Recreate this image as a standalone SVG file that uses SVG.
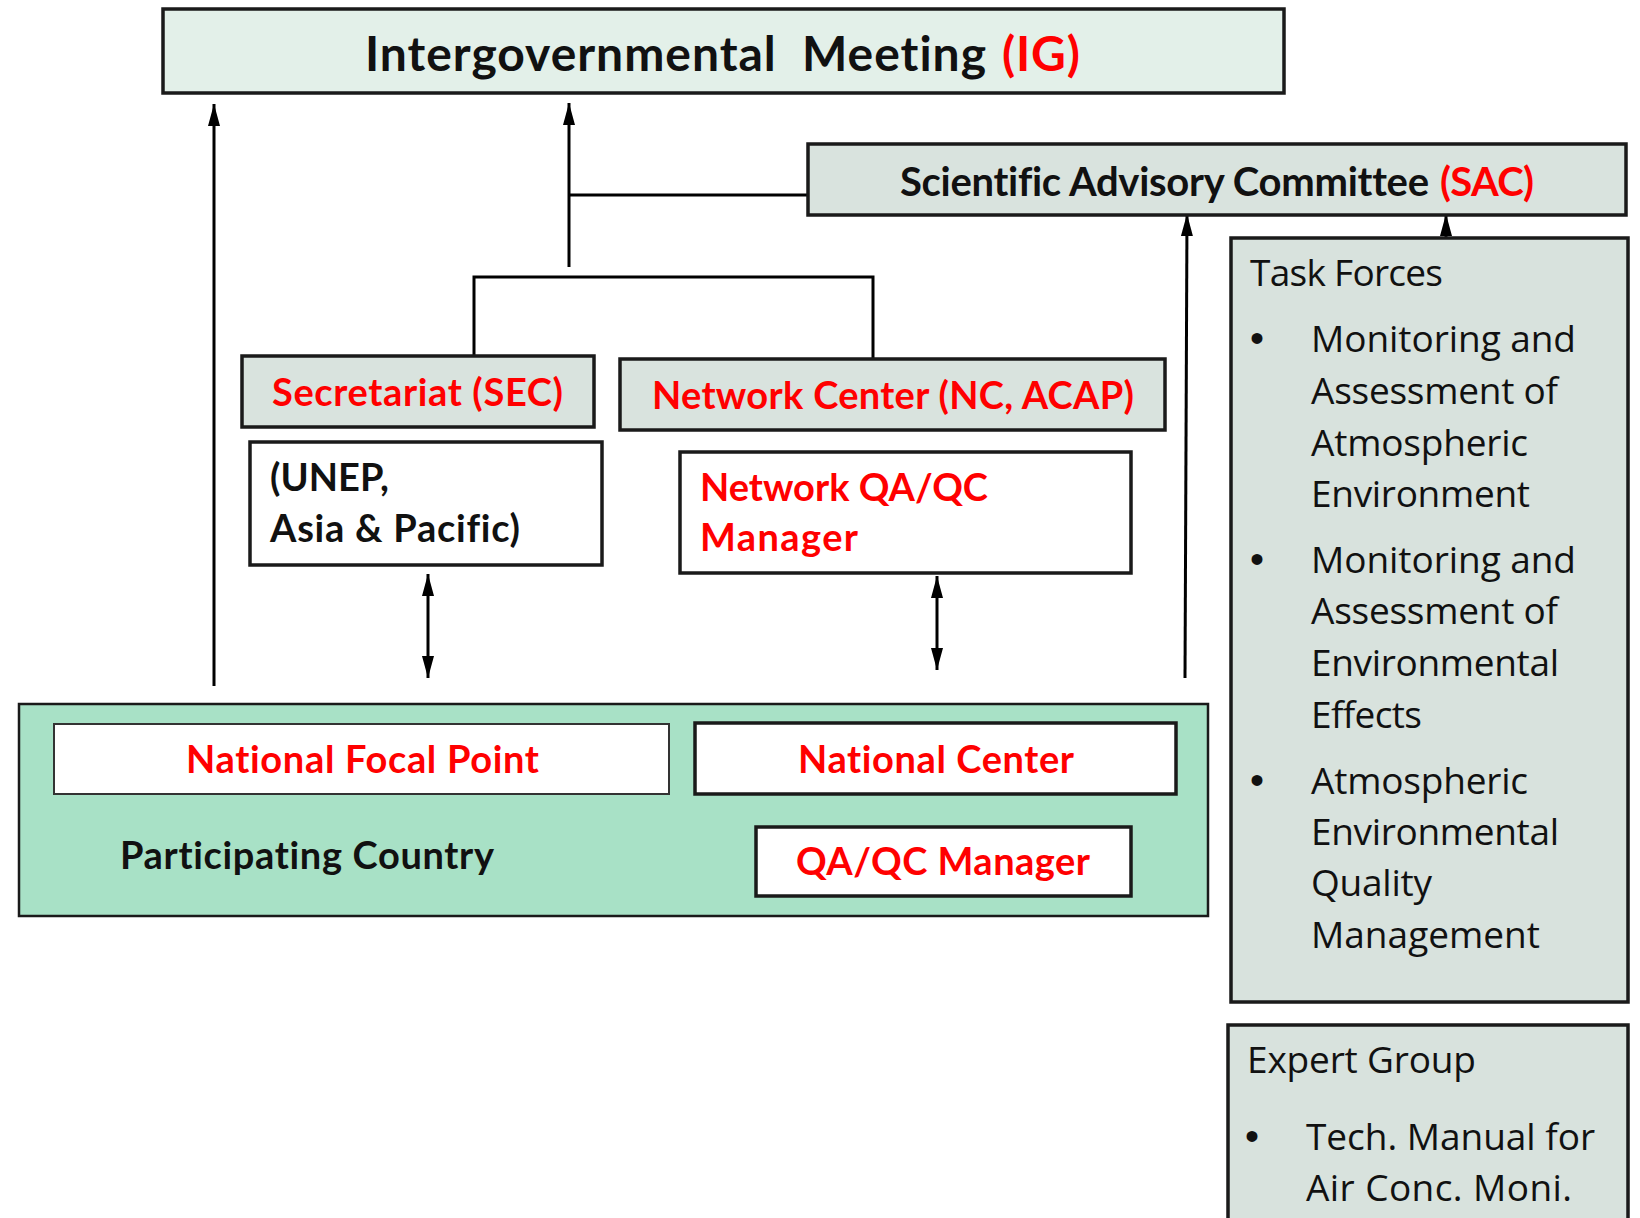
<svg xmlns="http://www.w3.org/2000/svg" width="1640" height="1218" viewBox="0 0 1640 1218">
<style>
text{font-variant-ligatures:none;font-feature-settings:"liga" 0,"clig" 0,"dlig" 0}
.b{font-family:Lato,"Open Sans","Liberation Sans",sans-serif;font-weight:bold}
.r{fill:#ff0000}
.k{fill:#111}
.t{font-family:"Open Sans","Noto Sans","Liberation Sans",sans-serif;font-size:37px;fill:#111}
.bu{font-family:"Liberation Sans",sans-serif;font-size:40px;fill:#111}
.box{stroke:#1a1a1a;stroke-width:3.5}
.ln{stroke:#000;stroke-width:3;fill:none}
</style>
<defs>
<marker id="ah" viewBox="0 0 22 12" refX="22" refY="6" markerWidth="22" markerHeight="12" markerUnits="userSpaceOnUse" orient="auto-start-reverse">
<path d="M0,0 L22,6 L0,12 Z" fill="#000"/>
</marker>
</defs>
<rect width="1640" height="1218" fill="#fff"/>

<g id="connectors">
<line class="ln" x1="214" y1="686" x2="214" y2="104" marker-end="url(#ah)"/>
<line class="ln" x1="569" y1="267" x2="569" y2="103" marker-end="url(#ah)"/>
<line class="ln" x1="569" y1="195" x2="808" y2="195"/>
<polyline class="ln" points="474,356 474,277 873,277 873,359"/>
<line class="ln" x1="428" y1="574" x2="428" y2="678" marker-start="url(#ah)" marker-end="url(#ah)"/>
<line class="ln" x1="937" y1="576" x2="937" y2="670" marker-start="url(#ah)" marker-end="url(#ah)"/>
<line class="ln" x1="1185" y1="678" x2="1187" y2="214" marker-end="url(#ah)"/>
<line class="ln" x1="1446" y1="237" x2="1446" y2="214" marker-end="url(#ah)"/>
</g>

<g id="ig">
<rect class="box" x="163" y="9" width="1121" height="84" fill="#e3f0e9"/>
<text class="b k" x="365" y="71" font-size="48" textLength="621" xml:space="preserve" style="white-space:pre">Intergovernmental  Meeting</text>
<text class="b r" x="1002" y="71" font-size="48" textLength="78">(IG)</text>
</g>

<g id="sac">
<rect class="box" x="808" y="144" width="818" height="71" fill="#d9e3de"/>
<text class="b k" x="900" y="196" font-size="40" textLength="529">Scientific Advisory Committee</text>
<text class="b r" x="1440" y="196" font-size="40" textLength="94">(SAC)</text>
</g>

<g id="sec">
<rect class="box" x="242" y="356" width="352" height="71" fill="#d9e3de"/>
<text class="b r" x="272" y="406" font-size="38" textLength="291">Secretariat (SEC)</text>
</g>

<g id="unep">
<rect class="box" x="250" y="442" width="352" height="123" fill="#fff"/>
<text class="b k" x="270" y="491" font-size="38" textLength="119">(UNEP,</text>
<text class="b k" x="270" y="542" font-size="38" textLength="250">Asia &amp; Pacific)</text>
</g>

<g id="nc">
<rect class="box" x="620" y="359" width="545" height="71" fill="#d9e3de"/>
<text class="b r" x="652" y="409" font-size="38" textLength="482">Network Center (NC, ACAP)</text>
</g>

<g id="nqa">
<rect class="box" x="680" y="452" width="451" height="121" fill="#fff"/>
<text class="b r" x="700" y="501" font-size="38" textLength="288">Network QA/QC</text>
<text class="b r" x="700" y="551" font-size="38" textLength="158">Manager</text>
</g>

<g id="pc">
<rect x="19" y="704" width="1189" height="212" fill="#a8e1c6" stroke="#1a1a1a" stroke-width="2.5"/>
<text class="b k" x="120" y="869" font-size="38" textLength="374">Participating Country</text>
</g>

<g id="nfp">
<rect x="54" y="724" width="615" height="70" fill="#fff" stroke="#333" stroke-width="2"/>
<text class="b r" x="186" y="773" font-size="38" textLength="353">National Focal Point</text>
</g>

<g id="ncn">
<rect class="box" x="695" y="723" width="481" height="71" fill="#fff"/>
<text class="b r" x="798" y="773" font-size="38" textLength="276">National Center</text>
</g>

<g id="qa">
<rect class="box" x="756" y="827" width="375" height="69" fill="#fff"/>
<text class="b r" x="796" y="875" font-size="38" textLength="294">QA/QC Manager</text>
</g>

<g id="tf">
<rect class="box" x="1231" y="238" width="397" height="764" fill="#d8e2dd"/>
<text class="t" x="1250" y="286" textLength="193">Task Forces</text>
<text class="bu" x="1250" y="352">•</text>
<text class="t" x="1311" y="352" textLength="265">Monitoring and</text>
<text class="t" x="1311" y="404" textLength="247">Assessment of</text>
<text class="t" x="1311" y="456" textLength="217">Atmospheric</text>
<text class="t" x="1311" y="507" textLength="219">Environment</text>
<text class="bu" x="1250" y="573">•</text>
<text class="t" x="1311" y="573" textLength="265">Monitoring and</text>
<text class="t" x="1311" y="624" textLength="247">Assessment of</text>
<text class="t" x="1311" y="676" textLength="248">Environmental</text>
<text class="t" x="1311" y="728" textLength="111">Effects</text>
<text class="bu" x="1250" y="794">•</text>
<text class="t" x="1311" y="794" textLength="217">Atmospheric</text>
<text class="t" x="1311" y="845" textLength="248">Environmental</text>
<text class="t" x="1311" y="896" textLength="121">Quality</text>
<text class="t" x="1311" y="948" textLength="229">Management</text>
</g>

<g id="eg">
<rect class="box" x="1228" y="1025" width="400" height="210" fill="#d8e2dd"/>
<text class="t" x="1247" y="1073" textLength="229">Expert Group</text>
<text class="bu" x="1245" y="1150">•</text>
<text class="t" x="1306" y="1150" textLength="289">Tech. Manual for</text>
<text class="t" x="1306" y="1201" textLength="266">Air Conc. Moni.</text>
</g>
</svg>
